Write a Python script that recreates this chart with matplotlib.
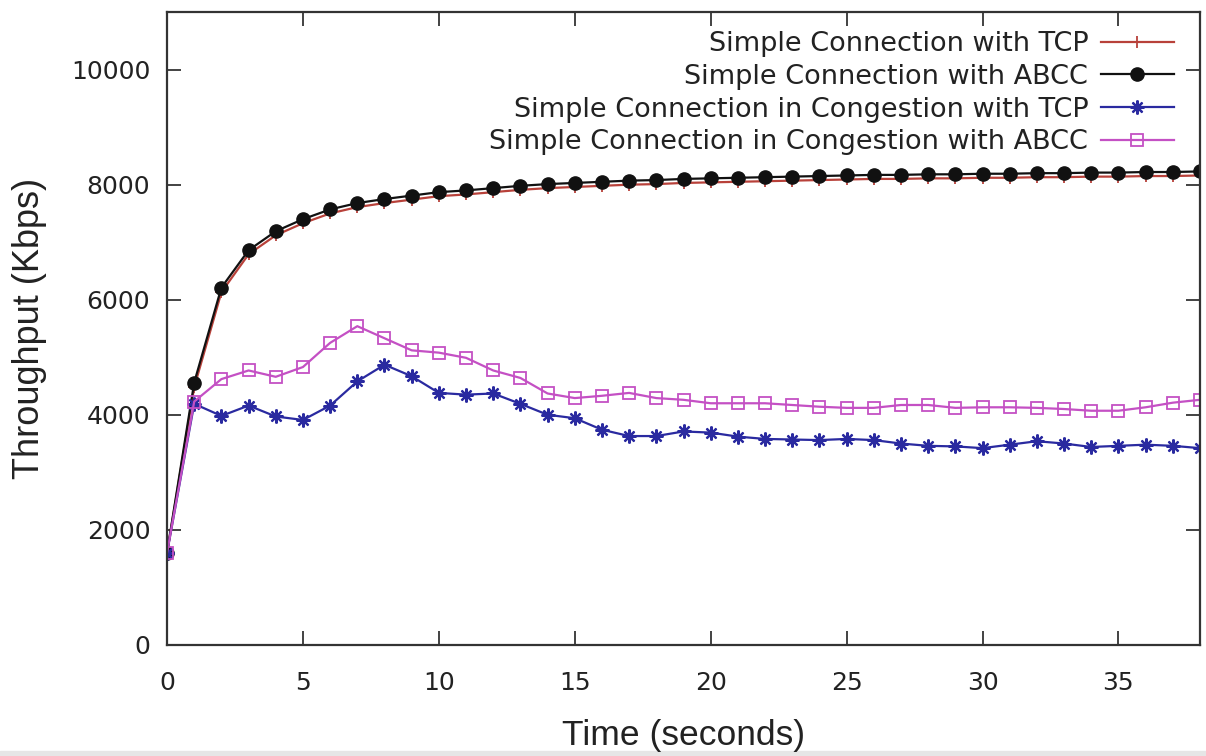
import numpy as np
import matplotlib
matplotlib.use('Agg')
import matplotlib.pyplot as plt
from matplotlib.patches import Rectangle

# Data (time in seconds, throughput in Kbps)
time_s = list(range(0, 39))

abcc_simple = [1600, 4560, 6210, 6860, 7190, 7400, 7570, 7680, 7750, 7810,
               7870, 7900, 7940, 7980, 8010, 8030, 8050, 8070, 8080, 8100,
               8110, 8120, 8130, 8140, 8150, 8160, 8170, 8170, 8180, 8180,
               8190, 8190, 8200, 8200, 8210, 8210, 8220, 8220, 8230]

tcp_simple = [1600, 4480, 6130, 6790, 7120, 7330, 7500, 7610, 7680, 7740,
              7800, 7830, 7870, 7910, 7940, 7960, 7980, 8000, 8010, 8030,
              8040, 8050, 8060, 8070, 8080, 8090, 8100, 8100, 8110, 8110,
              8120, 8120, 8130, 8130, 8140, 8140, 8150, 8150, 8160]

tcp_congestion = [1600, 4190, 3980, 4160, 3970, 3910, 4160, 4580, 4870, 4670,
                  4380, 4350, 4370, 4190, 4000, 3940, 3740, 3630, 3630, 3710,
                  3690, 3620, 3580, 3570, 3560, 3580, 3560, 3500, 3460, 3450,
                  3420, 3480, 3540, 3500, 3440, 3460, 3480, 3460, 3420]

abcc_congestion = [1600, 4230, 4620, 4770, 4660, 4830, 5250, 5540, 5330, 5120,
                   5080, 4990, 4770, 4640, 4370, 4290, 4330, 4380, 4290, 4260,
                   4200, 4200, 4200, 4170, 4140, 4120, 4120, 4170, 4170, 4120,
                   4130, 4130, 4120, 4100, 4070, 4070, 4130, 4210, 4260]

plt.rcParams['font.family'] = ['DejaVu Sans']

fig = plt.figure(figsize=(12.06, 7.56), dpi=100)
ax = fig.add_axes([0.1385, 0.147, 0.8565, 0.837])

ax.plot(time_s, tcp_simple, color='#b8413a', lw=1.6, marker='+', ms=9, mew=1.3,
        label='Simple Connection with TCP')
ax.plot(time_s, abcc_simple, color='#111111', lw=1.6, marker='o', ms=9.5,
        label='Simple Connection with ABCC')
ax.plot(time_s, tcp_congestion, color='#2a2aa0', lw=1.6, marker=(8, 2, 0), ms=10, mew=1.6,
        label='Simple Connection in Congestion with TCP')
ax.plot(time_s, abcc_congestion, color='#c450c4', lw=1.6, marker='s', ms=8.5, mew=1.3,
        mfc='none', label='Simple Connection in Congestion with ABCC')

ax.set_xlim(0, 38)
ax.set_ylim(0, 11000)
ax.set_xticks([0, 5, 10, 15, 20, 25, 30, 35])
ax.set_yticks([0, 2000, 4000, 6000, 8000, 10000])
ax.tick_params(direction='in', length=10, width=1.2, labelsize=18,
               top=True, right=True, colors='#222222')
ax.tick_params(axis='x', pad=19)
ax.tick_params(axis='y', pad=12)
for s in ax.spines.values():
    s.set_linewidth(1.6)
    s.set_color('#333333')

ax.set_xlabel('Time (seconds)', fontsize=25.5, family='Liberation Sans',
              color='#222222', labelpad=17)
ax.set_ylabel('Throughput (Kbps)', fontsize=26, family='Liberation Sans',
              color='#222222', labelpad=17)

leg = ax.legend(loc='upper right', bbox_to_anchor=(0.985, 0.987), markerfirst=False,
                frameon=False, fontsize=19.5, handlelength=2.7, labelspacing=0.25,
                borderaxespad=0, borderpad=0.4, handletextpad=0.45)
for t in leg.get_texts():
    t.set_color('#222222')

# light grey strip along the bottom edge of the screenshot
fig.add_artist(Rectangle((0, 0), 1, 0.006, transform=fig.transFigure,
                         color='#e6e6e6', zorder=-1))

fig.savefig('out.png', dpi=100)
